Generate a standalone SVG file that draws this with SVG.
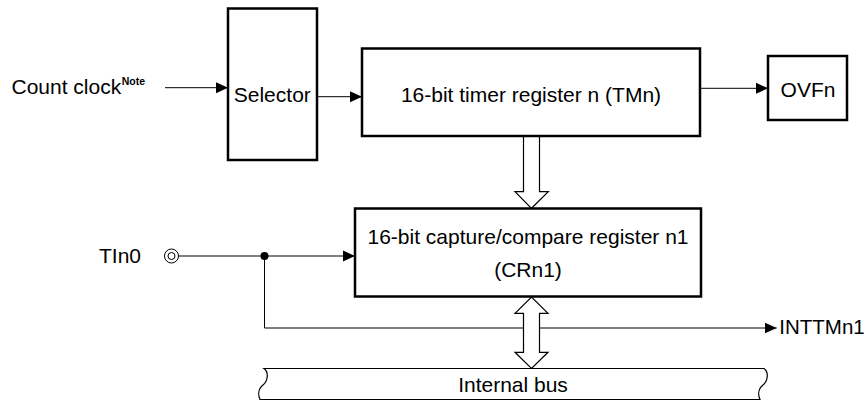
<svg xmlns="http://www.w3.org/2000/svg" width="866" height="404" viewBox="0 0 866 404">
<defs>
<marker id="ah" markerUnits="userSpaceOnUse" markerWidth="12" markerHeight="12" refX="12" refY="6" orient="auto"><path d="M0,0.5 L12,6 L0,11.5 z" fill="#000"/></marker>
</defs>
<style>
.box{fill:#fff;stroke:#000;stroke-width:2.5}
.t{font-family:"Liberation Sans",Arial,Helvetica,sans-serif;font-size:21px;fill:#000}
.ln{fill:none;stroke:#000;stroke-width:1}
.hollow{fill:#fff;stroke:#000;stroke-width:1.2;stroke-linejoin:miter}
</style>
<rect width="866" height="404" fill="#fff"/>

<g id="bus">
<path d="M264,368.5 H764 C769,372 768,381 763,385 C758,389 758,395 760,399.5 H260 C258,395 258,389 263,385 C268,381 269,372 264,368.5 Z" fill="#fff" stroke="#000" stroke-width="1.2"/>
<text class="t" x="513" y="391.5" text-anchor="middle">Internal bus</text>
</g>

<g id="connectors">
<path class="ln" d="M165,87.7 H228" marker-end="url(#ah)"/>
<path class="ln" d="M317,96.7 H362" marker-end="url(#ah)"/>
<path class="ln" d="M700,88.3 H768" marker-end="url(#ah)"/>
<path class="ln" d="M179,256 H355" marker-end="url(#ah)"/>
<path class="ln" d="M264.5,256 V328 H776.7" marker-end="url(#ah)"/>
<circle cx="264.5" cy="256" r="4" fill="#000"/>
<path class="hollow" d="M523.5,136 V191.7 H515 L531.5,208.3 L548.3,191.7 H539.5 V136"/>
<path class="hollow" d="M523.5,313.3 H515 L531.5,297 L548,313.3 H539.5 V352.3 H548 L531.5,368.5 L515,352.3 H523.5 Z"/>
</g>

<g id="count-clock">
<text class="t" x="11.5" y="94.3">Count clock</text>
<text x="121.7" y="85" font-family="'Liberation Sans',Arial,sans-serif" font-size="10.5" font-weight="bold" fill="#000">Note</text>
</g>

<g id="selector">
<rect class="box" x="228" y="8.5" width="89" height="151.5"/>
<text class="t" x="272.3" y="101.7" text-anchor="middle">Selector</text>
</g>

<g id="timer">
<rect class="box" x="362" y="48.5" width="338" height="87.5"/>
<text class="t" x="531" y="102.3" text-anchor="middle">16-bit timer register n (TMn)</text>
</g>

<g id="ovfn">
<rect class="box" x="768" y="56" width="79" height="64"/>
<text class="t" x="808" y="97" text-anchor="middle">OVFn</text>
</g>

<g id="capture">
<rect class="box" x="355" y="208.5" width="346" height="88"/>
<text class="t" x="528" y="243.5" text-anchor="middle">16-bit capture/compare register n1</text>
<text class="t" x="528" y="277" text-anchor="middle">(CRn1)</text>
</g>

<g id="tin0">
<text class="t" x="141" y="263" text-anchor="end">TIn0</text>
<circle cx="171.5" cy="256" r="7" fill="#fff" stroke="#000" stroke-width="1"/>
<circle cx="171.5" cy="256" r="3.5" fill="#fff" stroke="#000" stroke-width="1"/>
</g>

<g id="inttm">
<text class="t" x="779.3" y="333.5" style="font-size:20.5px">INTTMn1</text>
</g>
</svg>
